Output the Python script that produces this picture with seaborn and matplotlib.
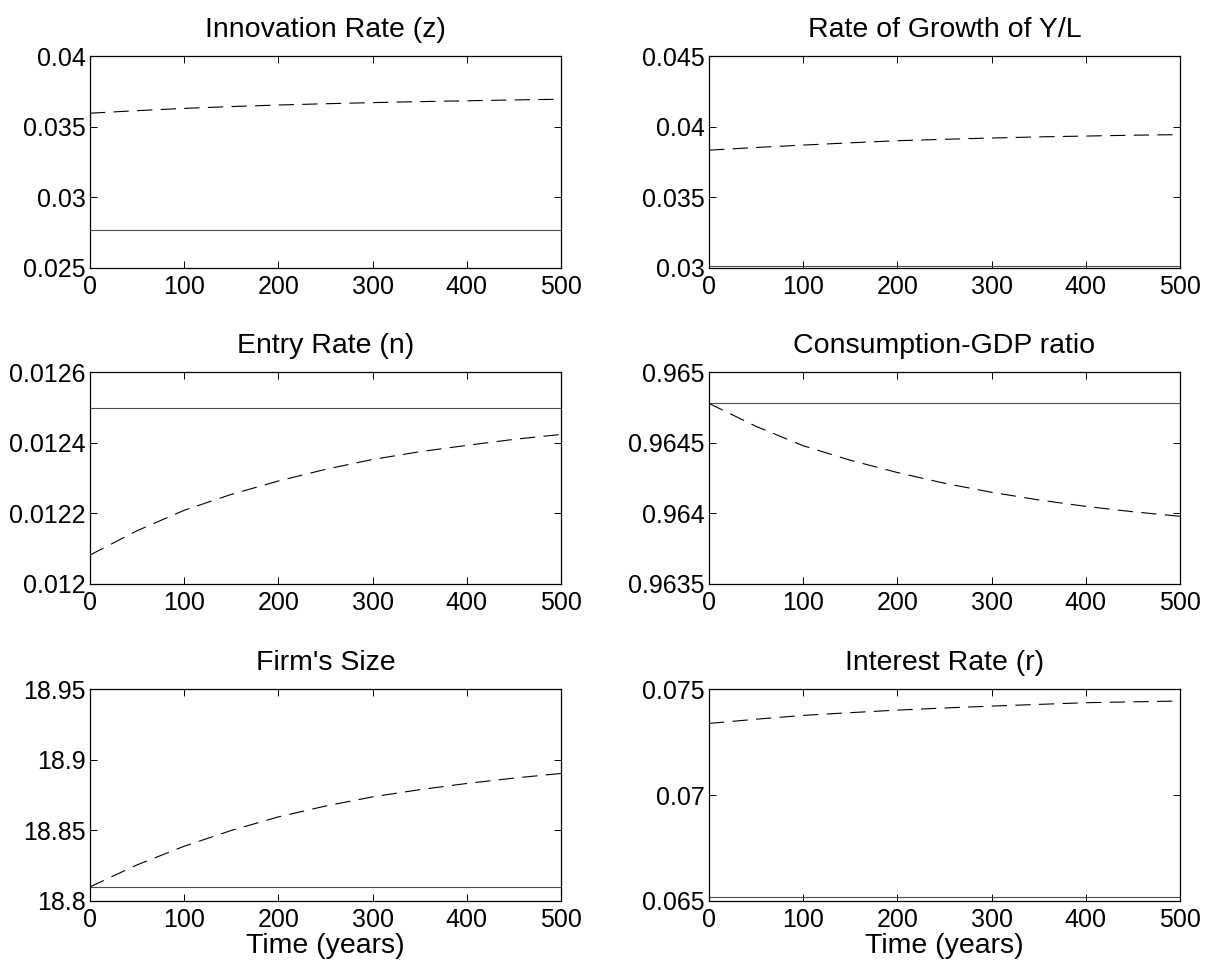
import numpy as np
import pandas as pd
import seaborn as sns
import matplotlib.pyplot as plt
from matplotlib.ticker import FormatStrFormatter

# time grid (years)
t = [0, 50, 100, 150, 200, 250, 300, 350, 400, 450, 500]

# dashed = transition path, solid = initial steady state
innov_dash = [0.03597, 0.03615, 0.03631, 0.03644, 0.03655, 0.03664, 0.03672, 0.03679, 0.03685, 0.03691, 0.03696]
innov_solid = 0.02769

growth_dash = [0.03835, 0.03854, 0.03871, 0.03887, 0.03902, 0.03912, 0.03921, 0.03929, 0.03935, 0.03941, 0.03945]
growth_solid = 0.03012

entry_dash = [0.012082, 0.012151, 0.012209, 0.012254, 0.012292, 0.012325, 0.012353, 0.012375, 0.012393, 0.01241, 0.012424]
entry_solid = 0.01250

cons_dash = [0.96478, 0.964617, 0.96448, 0.964377, 0.96429, 0.964214, 0.96415, 0.964096, 0.96405, 0.964012, 0.96398]
cons_solid = 0.96478

size_dash = [18.810, 18.8256, 18.8388, 18.850, 18.8596, 18.8673, 18.8738, 18.8789, 18.8833, 18.8871, 18.8904]
size_solid = 18.8097

rate_dash = [0.07339, 0.07359, 0.07377, 0.07390, 0.07402, 0.07412, 0.07421, 0.07429, 0.07437, 0.07441, 0.07445]
rate_solid = 0.06517

titles = ["Innovation Rate (z)", "Rate of Growth of Y/L",
          "Entry Rate (n)", "Consumption-GDP ratio",
          "Firm's Size", "Interest Rate (r)"]
ylims = [(0.025, 0.04), (0.03, 0.045),
         (0.012, 0.0126), (0.9635, 0.965),
         (18.8, 18.95), (0.065, 0.075)]
yticks = [[0.025, 0.03, 0.035, 0.04], [0.03, 0.035, 0.04, 0.045],
          [0.012, 0.0122, 0.0124, 0.0126], [0.9635, 0.964, 0.9645, 0.965],
          [18.8, 18.85, 18.9, 18.95], [0.065, 0.07, 0.075]]
dashed = [innov_dash, growth_dash, entry_dash, cons_dash, size_dash, rate_dash]
solid = [innov_solid, growth_solid, entry_solid, cons_solid, size_solid, rate_solid]

sns.set_style("ticks")
plt.rcParams['font.family'] = ['Liberation Sans', 'DejaVu Sans']
plt.rcParams['text.color'] = 'k'
plt.rcParams['axes.labelcolor'] = 'k'
plt.rcParams['xtick.color'] = 'k'
plt.rcParams['ytick.color'] = 'k'
plt.rcParams['lines.scale_dashes'] = False
plt.rcParams['lines.dashed_pattern'] = [11, 6]

fig = plt.figure(figsize=(12.06, 9.73), dpi=100)

# axes boxes (fractions of figure) mimicking the MATLAB subplot layout
lefts = [0.0746, 0.5879]
bottoms = [0.7246, 0.3998, 0.0740]
w, h = 0.3905, 0.2175

for i in range(6):
    row, col = divmod(i, 2)
    ax = fig.add_axes([lefts[col], bottoms[row], w, h])
    df = pd.DataFrame({"t": t, "path": dashed[i], "ss": [solid[i]] * len(t)})
    sns.lineplot(data=df, x="t", y="ss", ax=ax, color="0.3", linewidth=0.8)
    sns.lineplot(data=df, x="t", y="path", ax=ax, color="k", linewidth=0.8, linestyle="--")
    ax.set_xlim(0, 500)
    ax.set_ylim(*ylims[i])
    ax.set_xticks([0, 100, 200, 300, 400, 500])
    ax.set_yticks(yticks[i])
    ax.yaxis.set_major_formatter(FormatStrFormatter('%g'))
    ax.tick_params(direction="in", top=True, right=True, length=5, width=0.7,
                   labelsize=18)
    ax.tick_params(axis="x", pad=5)
    ax.tick_params(axis="y", pad=3)
    for s in ax.spines.values():
        s.set_linewidth(0.9)
        s.set_color("k")
    ax.set_title(titles[i], fontsize=20.5, pad=14)
    ax.set_ylabel("")
    if row == 2:
        ax.set_xlabel("Time (years)", fontsize=20.5, labelpad=1)
    else:
        ax.set_xlabel("")

fig.savefig("out.png", dpi=100)
